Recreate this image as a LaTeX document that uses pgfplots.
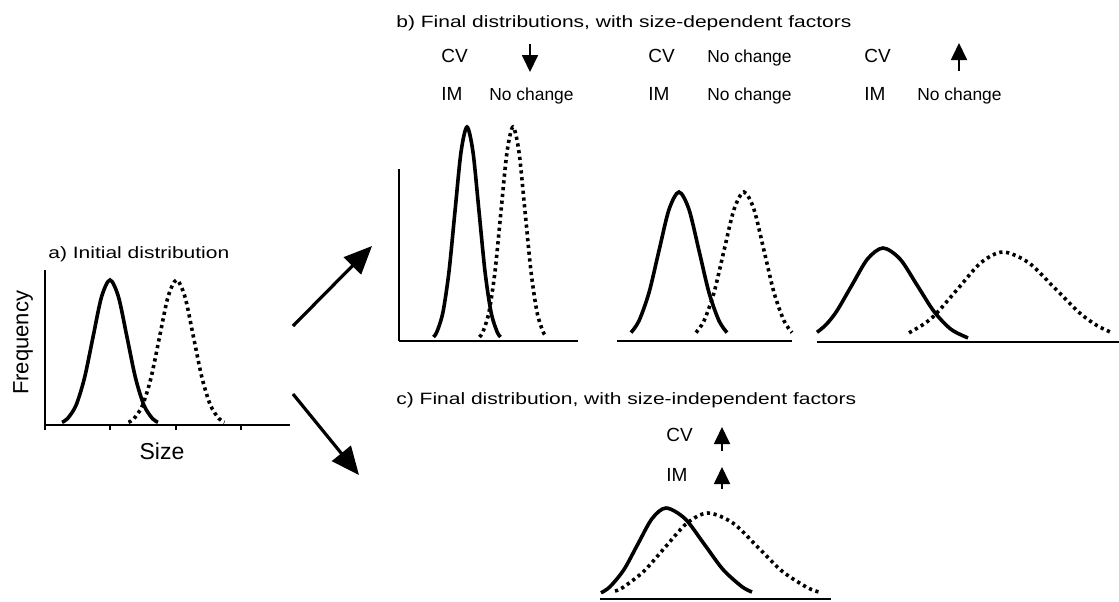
\documentclass[border=0pt]{standalone}
\usepackage{fontspec}
\setmainfont{Liberation Sans}
\newfontfamily\widefont{Liberation Sans}[FakeStretch=1.28]
\usepackage{pgfplots}
\pgfplotsset{compat=1.18}
\usetikzlibrary{arrows.meta}
\pgfplotsset{
 panel/.style={scale only axis, clip=false, anchor=south west, ymin=0,
   axis x line=bottom, axis line style={-, line width=0.9pt, black},
   xtick=\empty, ytick=\empty},
 sol/.style={black, line width=1.8pt, smooth, no marks},
 dot/.style={black, line width=1.8pt, smooth, no marks, dash pattern=on 1.6pt off 1.8pt},
}
\newcommand{\ttl}{\widefont\fontsize{8.2}{10}\selectfont}
\newcommand{\lab}{\fontsize{9.5}{11}\selectfont}
\newcommand{\nch}{\fontsize{8.7}{10}\selectfont}
\begin{document}
\begin{tikzpicture}[x=0.5pt,y=-0.5pt]
% ---------- a) initial distribution
\begin{axis}[panel, at={(22.5pt,-212.5pt)}, width=122.5pt, height=77.5pt,
  xmin=45, xmax=290, ymax=155, axis y line=left,
  axis line style={-, line width=0.75pt, black},
  xtick={45,110,176,241}, xticklabels={}, tick align=outside,
  major tick length=2.5pt, tick style={line width=0.75pt, black},
  xlabel={Size}, ylabel={Frequency},
  xlabel style={at={(axis description cs:0.4776,0)}, anchor=center, yshift=-13pt, font=\fontsize{11.5}{13}\selectfont},
  ylabel style={at={(axis description cs:0,0.53)}, anchor=center, yshift=11pt, font=\fontsize{11}{13}\selectfont}]
\addplot[sol] coordinates {(62,2.7)(67.5,6.4)(76,19.6)(84.5,47.1)(93,87.9)(101.5,128)(110,145)(118.5,128)(127,87.9)(135.5,47.1)(144,19.6)(152.5,6.4)(158,2.7)};
\addplot[dot] coordinates {(128.5,2.7)(134,6.4)(142.5,19.6)(151,47.1)(159.5,87.9)(168,128)(176.5,145)(185,128)(193.5,87.9)(202,47.1)(210.5,19.6)(219,6.4)(224.5,2.7)};
\end{axis}
% ---------- b1
\begin{axis}[panel, at={(199.5pt,-170.5pt)}, width=89.5pt, height=86pt,
  xmin=399, xmax=578, ymax=172, axis y line=left,
  axis line style={-, line width=0.9pt, black}]
\addplot[sol] coordinates {(433.5,4.0)(437,9.4)(443,29.0)(449,69.5)(455,129.8)(461,188.9)(467,214)(473,188.9)(479,129.8)(485,69.5)(491,29.0)(497,9.4)(500.5,4.0)};
\addplot[dot] coordinates {(479.5,4.0)(483,9.4)(489,29.0)(495,69.5)(501,129.8)(507,188.9)(513,214)(519,188.9)(525,129.8)(531,69.5)(537,29.0)(543,9.4)(546.5,4.0)};
\end{axis}
% ---------- b2
\begin{axis}[panel, axis y line=none, at={(308.5pt,-170.5pt)}, width=87.5pt, height=86pt,
  xmin=617, xmax=792, ymax=172]
\addplot[sol] coordinates {(631,8.4)(639,20.2)(649,48.4)(659,90.4)(669,131.5)(679,149)(689,131.5)(699,90.4)(709,48.4)(719,20.2)(727,8.4)};
\addplot[dot] coordinates {(696,8.4)(704,20.2)(714,48.4)(724,90.4)(734,131.5)(744,149)(754,131.5)(764,90.4)(774,48.4)(784,20.2)(792,8.4)};
\end{axis}
% ---------- b3
\begin{axis}[panel, axis y line=none, at={(408.5pt,-171pt)}, width=151pt, height=86pt,
  xmin=817, xmax=1119, ymax=172]
\addplot[sol] coordinates {(817,9.7)(826,17.3)(836.5,30.5)(852,57.0)(867.5,83.0)(883,94)(900,83.0)(917,57.0)(934,30.5)(951,12.7)(968,4.1)};
\addplot[dot] coordinates {(909,9.2)(925,18.7)(937,29.2)(959,54.6)(981,79.4)(1003,90)(1028.5,79.4)(1054,54.6)(1079.5,29.2)(1097,16.5)(1113,8.8)};
\end{axis}
% ---------- c
\begin{axis}[panel, axis y line=none, at={(300pt,-299.5pt)}, width=115.5pt, height=50pt,
  xmin=600, xmax=831, ymax=100]
\addplot[sol] coordinates {(601,6.2)(610,12.3)(624,29.5)(638,55.2)(652,80.3)(666,91)(685,80.3)(704,55.2)(723,29.5)(742,12.3)(752,7.0)};
\addplot[dot] coordinates {(615,8.0)(623,11.6)(644,27.9)(665.5,52.2)(687,75.9)(708,86)(733,75.9)(757.5,52.2)(782,27.9)(807,11.6)(819,7.0)};
\end{axis}
% ---------- titles
\node[anchor=base west, inner sep=0pt, font=\ttl] at (48,258) {a) Initial distribution};
\node[anchor=base west, inner sep=0pt, font=\ttl] at (396,27) {b) Final distributions, with size-dependent factors};
\node[anchor=base west, inner sep=0pt, font=\ttl] at (396,404) {c) Final distribution, with size-independent factors};
% ---------- b labels
\node[anchor=base west, inner sep=0pt, font=\lab] at (441,62) {CV};
\node[anchor=base west, inner sep=0pt, font=\lab] at (441,100.5) {IM};
\node[anchor=base west, inner sep=0pt, font=\nch] at (489,100.5) {No change};
\draw[line width=0.9pt, -{Triangle[length=8.5pt,width=8pt]}] (530,44) -- (530,72);
\node[anchor=base west, inner sep=0pt, font=\lab] at (648,62) {CV};
\node[anchor=base west, inner sep=0pt, font=\nch] at (707,62) {No change};
\node[anchor=base west, inner sep=0pt, font=\lab] at (648,100.5) {IM};
\node[anchor=base west, inner sep=0pt, font=\nch] at (707,100.5) {No change};
\node[anchor=base west, inner sep=0pt, font=\lab] at (864,62) {CV};
\draw[line width=0.9pt, -{Triangle[length=8.5pt,width=8pt]}] (959,71) -- (959,43);
\node[anchor=base west, inner sep=0pt, font=\lab] at (864,100.5) {IM};
\node[anchor=base west, inner sep=0pt, font=\nch] at (917,100.5) {No change};
% ---------- c labels
\node[anchor=base west, inner sep=0pt, font=\lab] at (666,441.7) {CV};
\draw[line width=0.9pt, -{Triangle[length=8.5pt,width=8pt]}] (722,451) -- (722,427);
\node[anchor=base west, inner sep=0pt, font=\lab] at (666,481.7) {IM};
\draw[line width=0.9pt, -{Triangle[length=8.5pt,width=8pt]}] (722,489) -- (722,467);
% ---------- big arrows
\draw[line width=1.6pt, -{Triangle[length=14pt,width=12pt]}] (293,326) -- (372,246);
\draw[line width=1.6pt, -{Triangle[length=14pt,width=12pt]}] (293,394) -- (359,475);
\pgfresetboundingbox
\path (0,0) rectangle (1119,601);
\end{tikzpicture}
\end{document}
